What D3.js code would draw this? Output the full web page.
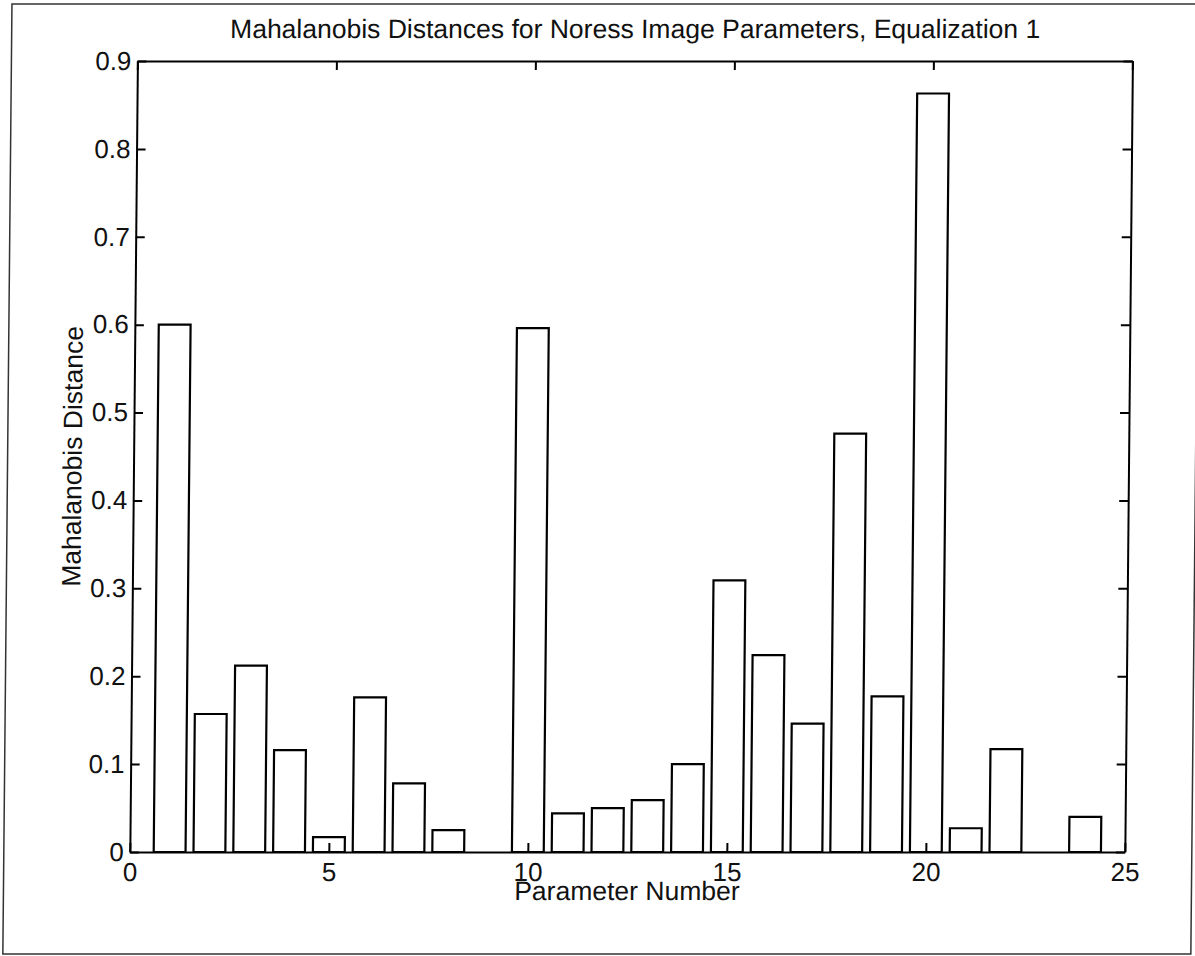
<!DOCTYPE html>
<html>
<head>
<meta charset="utf-8">
<script src="https://cdn.jsdelivr.net/npm/d3@7"></script>
<style>
  body { margin: 0; background: #fff; }
  svg { display: block; }
  text { font-family: "Liberation Sans", Arial, Helvetica, sans-serif; fill: #111; }
</style>
</head>
<body>
<svg id="chart" width="1195" height="956"></svg>
<script>
// Mahalanobis distance per image parameter (parameters 1..24)
const parameters = d3.range(1, 25);
const distances = [
  0.600, 0.157, 0.212, 0.116, 0.017, 0.176, 0.078, 0.025, 0.000, 0.596,
  0.044, 0.050, 0.059, 0.100, 0.309, 0.224, 0.146, 0.476, 0.177, 0.863,
  0.027, 0.117, 0.000, 0.040
];
const xTicks = [0, 5, 10, 15, 20, 25];
const yTicks = [0, 0.1, 0.2, 0.3, 0.4, 0.5, 0.6, 0.7, 0.8, 0.9];
const yTickLabels = ["0", "0.1", "0.2", "0.3", "0.4", "0.5", "0.6", "0.7", "0.8", "0.9"];
const titleText = "Mahalanobis Distances for Noress Image Parameters, Equalization 1";
const xLabelText = "Parameter Number";
const yLabelText = "Mahalanobis Distance";

const data = parameters.map((p, i) => ({ p, v: distances[i] }));

const plot = { left: 138, right: 1133, top: 61, bottom: 852 };
const barWidth = 0.8;
const tickLen = 9;
const tickFont = 26;
const labelFont = 26.5;

const svg = d3.select("#chart");

// whole figure sits slightly slanted on the page
const fig = svg.append("g").attr("transform", "skewX(-0.55)");

// figure frame
fig.append("rect")
  .attr("x", 12).attr("y", 4)
  .attr("width", 1188).attr("height", 950)
  .attr("fill", "none").attr("stroke", "#333").attr("stroke-width", 1.5);

const x = d3.scaleLinear().domain([0, 25]).range([plot.left, plot.right]);
const y = d3.scaleLinear().domain([0, 0.9]).range([plot.bottom, plot.top]);

// bars
fig.append("g").selectAll("rect").data(data).join("rect")
  .attr("x", d => x(d.p - barWidth / 2))
  .attr("width", d => x(d.p + barWidth / 2) - x(d.p - barWidth / 2))
  .attr("y", d => y(d.v))
  .attr("height", d => y(0) - y(d.v))
  .attr("fill", "#fff")
  .attr("stroke", "#000")
  .attr("stroke-width", 2.2);

// axes with inward ticks on all four sides
const fmtY = d => yTickLabels[yTicks.indexOf(d)];

const axB = fig.append("g").attr("transform", `translate(0,${plot.bottom})`)
  .call(d3.axisBottom(x).tickValues(xTicks).tickSizeInner(-tickLen).tickSizeOuter(0).tickPadding(11).tickFormat(d3.format("d")));
const axT = fig.append("g").attr("transform", `translate(0,${plot.top})`)
  .call(d3.axisTop(x).tickValues(xTicks).tickSizeInner(-tickLen).tickSizeOuter(0).tickFormat(""));
const axL = fig.append("g").attr("transform", `translate(${plot.left},0)`)
  .call(d3.axisLeft(y).tickValues(yTicks).tickSizeInner(-tickLen).tickSizeOuter(0).tickPadding(6).tickFormat(fmtY));
const axR = fig.append("g").attr("transform", `translate(${plot.right},0)`)
  .call(d3.axisRight(y).tickValues(yTicks).tickSizeInner(-tickLen).tickSizeOuter(0).tickFormat(""));

[axB, axT, axL, axR].forEach(a => {
  a.select(".domain").attr("stroke", "#000").attr("stroke-width", 2);
  a.selectAll(".tick line").attr("stroke", "#000").attr("stroke-width", 2);
  a.selectAll("text").attr("font-size", tickFont).attr("fill", "#111")
    .style("font-family", "'Liberation Sans', Arial, Helvetica, sans-serif");
});

// title and axis labels
fig.append("text")
  .attr("x", (plot.left + plot.right) / 2).attr("y", 38)
  .attr("text-anchor", "middle").attr("font-size", labelFont)
  .text(titleText);

fig.append("text")
  .attr("x", (plot.left + plot.right) / 2).attr("y", 900)
  .attr("text-anchor", "middle").attr("font-size", labelFont)
  .text(xLabelText);

fig.append("text")
  .attr("transform", `translate(86,${(plot.top + plot.bottom) / 2}) rotate(-90)`)
  .attr("text-anchor", "middle").attr("font-size", labelFont)
  .text(yLabelText);
</script>
</body>
</html>
